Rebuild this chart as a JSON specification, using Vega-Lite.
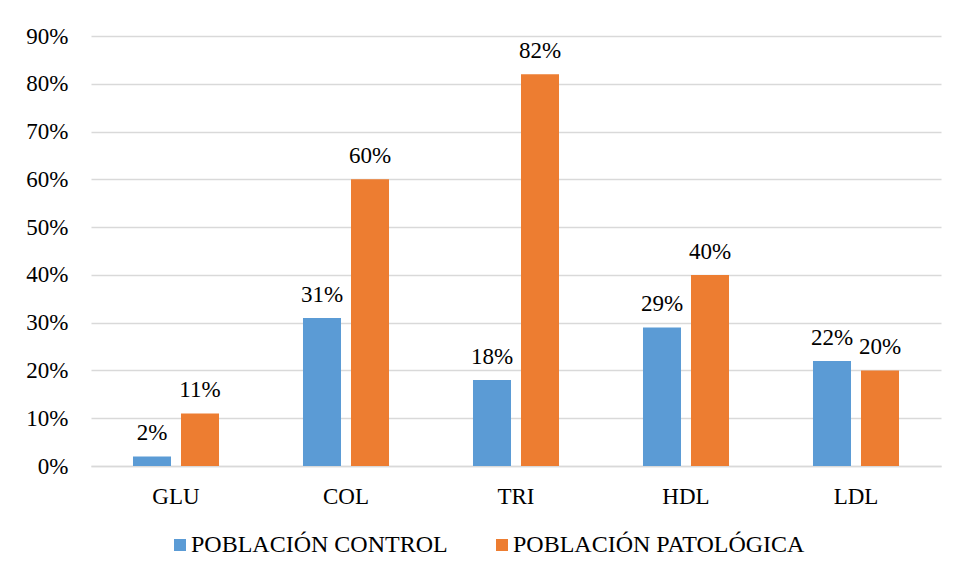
{
  "$schema": "https://vega.github.io/schema/vega-lite/v6.json",
  "width": 850,
  "height": 430,
  "autosize": {"type": "none"},
  "padding": {"left": 91, "top": 36, "right": 19, "bottom": 113},
  "background": "white",
  "config": {
    "font": "Times New Roman, Liberation Serif, serif",
    "view": {"stroke": null},
    "axis": {"labelFont": "Times New Roman, Liberation Serif, serif", "labelColor": "#000000", "labelFontSize": 23, "grid": false, "ticks": false},
    "legend": {"labelFont": "Times New Roman, Liberation Serif, serif", "labelFontSize": 24, "labelColor": "#000000"}
  },
  "data": {
    "values": [
      {"param": "GLU", "grupo": "POBLACIÓN CONTROL", "valor": 0.02},
      {"param": "GLU", "grupo": "POBLACIÓN PATOLÓGICA", "valor": 0.11},
      {"param": "COL", "grupo": "POBLACIÓN CONTROL", "valor": 0.31},
      {"param": "COL", "grupo": "POBLACIÓN PATOLÓGICA", "valor": 0.60},
      {"param": "TRI", "grupo": "POBLACIÓN CONTROL", "valor": 0.18},
      {"param": "TRI", "grupo": "POBLACIÓN PATOLÓGICA", "valor": 0.82},
      {"param": "HDL", "grupo": "POBLACIÓN CONTROL", "valor": 0.29},
      {"param": "HDL", "grupo": "POBLACIÓN PATOLÓGICA", "valor": 0.40},
      {"param": "LDL", "grupo": "POBLACIÓN CONTROL", "valor": 0.22},
      {"param": "LDL", "grupo": "POBLACIÓN PATOLÓGICA", "valor": 0.20}
    ]
  },
  "encoding": {
    "x": {
      "field": "param", "type": "nominal", "sort": ["GLU", "COL", "TRI", "HDL", "LDL"],
      "scale": {"paddingInner": 0.494, "paddingOuter": 0.247},
      "axis": {"title": null, "labelAngle": 0, "labelPadding": 19, "domainColor": "#D9D9D9", "domainWidth": 1.5}
    },
    "xOffset": {"field": "grupo", "type": "nominal", "scale": {"paddingInner": 0.208}},
    "y": {
      "field": "valor", "type": "quantitative",
      "scale": {"domain": [0, 0.9], "nice": false},
      "axis": {"title": null, "format": ".0%", "values": [0, 0.1, 0.2, 0.3, 0.4, 0.5, 0.6, 0.7, 0.8, 0.9], "grid": true, "gridColor": "#D9D9D9", "gridWidth": 1.5, "domain": false, "labelPadding": 23}
    }
  },
  "layer": [
    {
      "mark": {"type": "bar"},
      "encoding": {
        "color": {
          "field": "grupo", "type": "nominal",
          "scale": {"domain": ["POBLACIÓN CONTROL", "POBLACIÓN PATOLÓGICA"], "range": ["#5B9BD5", "#ED7D31"]},
          "legend": {"title": null, "orient": "none", "legendX": 77, "legendY": 497, "direction": "horizontal", "symbolType": "square", "symbolSize": 144, "symbolStrokeWidth": 0, "symbolOpacity": 1, "labelOffset": -1, "columnPadding": 42, "labelLimit": 0}
        }
      }
    },
    {
      "mark": {"type": "text", "baseline": "alphabetic", "dy": -16, "fontSize": 23, "font": "Times New Roman, Liberation Serif, serif", "color": "#000000"},
      "encoding": {
        "text": {"field": "valor", "type": "quantitative", "format": ".0%"}
      }
    }
  ]
}
